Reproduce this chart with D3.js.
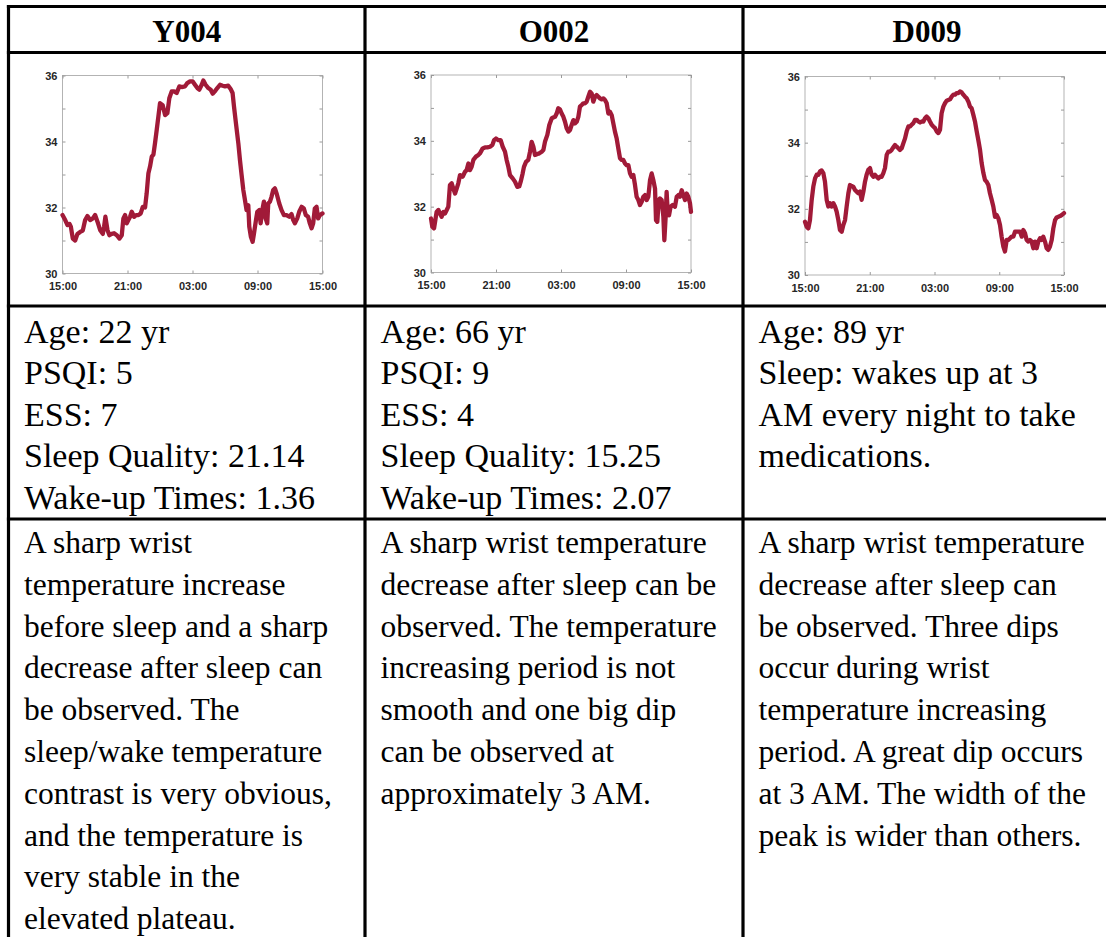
<!DOCTYPE html>
<html>
<head>
<meta charset="utf-8">
<script src="https://cdn.jsdelivr.net/npm/d3@7"></script>
<style>
  html, body { margin: 0; padding: 0; background: #fff; }
  svg { display: block; }
</style>
</head>
<body>
<svg id="fig" width="1106" height="937"></svg>
<script>
// Subjects shown in the table columns
const subjects = ["Y004", "O002", "D009"];

// Wrist temperature recordings: [hours since 15:00, temperature °C]
const y004Temp = [
  [0,31.77],[0.25,31.62],[0.46,31.47],[0.65,31.5],[0.77,31.42],[0.95,31.06],[1.17,31.0],[1.38,31.2],
  [1.63,31.26],[1.87,31.3],[2.09,31.62],[2.30,31.74],[2.55,31.62],[2.80,31.67],[3.01,31.77],[3.23,31.57],
  [3.47,31.32],[3.72,31.2],[3.84,31.42],[3.96,31.72],[4.15,31.32],[4.33,31.16],[4.55,31.2],[4.76,31.22],
  [5.01,31.16],[5.26,31.06],[5.47,31.16],[5.62,31.67],[5.78,31.77],[5.93,31.52],[6.08,31.62],[6.24,31.72],
  [6.39,31.87],[6.61,31.72],[6.79,31.77],[7.01,31.77],[7.22,31.82],[7.41,32.02],[7.62,32.0],[7.77,32.43],
  [7.93,33.04],[8.08,33.24],[8.24,33.54],[8.39,33.6],[8.54,33.95],[8.70,34.36],[8.85,34.76],[9.00,35.16],
  [9.25,35.1],[9.47,34.8],[9.68,34.86],[9.86,35.31],[10.08,35.52],[10.30,35.52],[10.54,35.47],[10.79,35.67],
  [11.00,35.65],[11.31,35.67],[11.52,35.77],[11.77,35.82],[12.02,35.82],[12.23,35.72],[12.45,35.62],[12.63,35.57],
  [12.85,35.72],[13.00,35.85],[13.21,35.72],[13.46,35.62],[13.68,35.57],[13.86,35.45],[14.07,35.52],[14.29,35.62],
  [14.54,35.72],[14.78,35.69],[15.00,35.67],[15.30,35.69],[15.52,35.59],[15.70,35.47],[15.83,35.06],[16.01,34.55],
  [16.23,33.95],[16.38,33.44],[16.53,32.99],[16.69,32.53],[16.84,32.23],[16.99,31.92],[17.15,32.07],[17.24,31.42],
  [17.39,31.11],[17.55,30.96],[17.67,31.2],[17.86,31.62],[17.98,31.87],[18.16,31.92],[18.29,31.52],[18.44,31.92],
  [18.59,32.18],[18.75,31.67],[18.90,31.52],[18.99,32.12],[19.15,32.18],[19.30,32.33],[19.45,32.53],[19.61,32.58],
  [19.76,32.43],[20.01,32.12],[20.22,31.92],[20.44,31.77],[20.68,31.77],[20.93,31.72],[21.14,31.8],[21.30,31.62],
  [21.45,31.52],[21.67,31.67],[21.85,31.87],[22.07,32.02],[22.28,31.97],[22.46,31.77],[22.67,31.72],[22.83,31.52],
  [22.99,31.37],[23.14,31.52],[23.29,31.97],[23.45,32.02],[23.60,31.67],[23.76,31.77],[24.00,31.82]
];

const o002Temp = [
  [0,31.64],[0.12,31.39],[0.28,31.34],[0.40,31.59],[0.52,31.84],[0.68,31.9],[0.83,31.79],[0.98,31.69],
  [1.14,31.84],[1.29,31.79],[1.45,31.9],[1.60,32.0],[1.75,32.66],[1.91,32.71],[2.06,32.55],[2.22,32.4],
  [2.37,32.55],[2.52,32.71],[2.68,32.96],[2.92,32.91],[3.14,33.06],[3.29,33.11],[3.45,33.31],[3.60,33.11],
  [3.75,33.21],[3.91,33.42],[4.15,33.52],[4.37,33.57],[4.52,33.62],[4.77,33.77],[4.98,33.8],[5.20,33.8],
  [5.45,33.82],[5.66,33.87],[5.82,34.02],[6.00,34.07],[6.22,34.02],[6.43,34.02],[6.62,33.82],[6.83,33.67],
  [6.98,33.42],[7.14,33.21],[7.29,32.96],[7.54,32.86],[7.75,32.76],[7.97,32.6],[8.15,32.62],[8.28,32.76],
  [8.46,33.01],[8.58,33.21],[8.77,33.36],[8.98,33.42],[9.14,33.67],[9.29,33.97],[9.45,33.82],[9.60,33.57],
  [9.82,33.6],[10.00,33.62],[10.22,33.67],[10.37,33.72],[10.52,33.97],[10.74,34.18],[10.92,34.48],[11.14,34.68],
  [11.29,34.71],[11.45,34.73],[11.60,34.83],[11.75,34.99],[11.91,34.95],[12.06,34.83],[12.22,34.73],[12.37,34.58],
  [12.52,34.38],[12.68,34.28],[12.83,34.33],[12.98,34.48],[13.14,34.63],[13.29,34.53],[13.45,34.58],[13.60,34.73],
  [13.75,35.04],[13.91,35.09],[14.06,35.14],[14.22,35.14],[14.37,35.19],[14.52,35.34],[14.68,35.49],[14.83,35.44],
  [14.98,35.19],[15.14,35.34],[15.29,35.39],[15.45,35.34],[15.60,35.29],[15.75,35.26],[15.91,35.29],[16.06,35.24],
  [16.22,35.14],[16.37,34.83],[16.52,34.88],[16.68,34.78],[16.83,34.53],[16.98,34.28],[17.14,34.07],[17.29,33.77],
  [17.45,33.47],[17.60,33.42],[17.75,33.42],[17.91,33.31],[18.06,33.26],[18.22,33.26],[18.37,33.01],[18.52,32.91],
  [18.68,32.96],[18.83,32.66],[18.98,32.3],[19.14,32.2],[19.29,32.05],[19.45,32.15],[19.60,32.3],[19.75,32.35],
  [19.91,32.2],[20.06,32.3],[20.22,32.81],[20.37,33.01],[20.52,32.81],[20.68,32.55],[20.77,31.59],[20.89,31.54],
  [21.02,32.2],[21.14,32.25],[21.29,32.2],[21.45,31.69],[21.54,30.98],[21.66,31.69],[21.75,32.45],[21.85,31.84],
  [21.97,31.74],[22.12,32.0],[22.31,32.05],[22.52,32.0],[22.68,32.3],[22.83,32.35],[22.98,32.3],[23.14,32.5],
  [23.29,32.35],[23.45,32.2],[23.60,32.4],[23.75,32.3],[23.91,32.1],[24.00,31.84]
];

const d009Temp = [
  [0,31.61],[0.15,31.46],[0.31,31.41],[0.46,31.66],[0.62,32.27],[0.77,32.67],[0.93,32.92],[1.08,33.03],
  [1.24,33.03],[1.39,33.13],[1.54,33.16],[1.70,33.08],[1.85,32.82],[2.01,32.27],[2.16,32.07],[2.32,32.17],
  [2.47,32.07],[2.63,32.17],[2.78,32.07],[2.93,31.92],[3.09,31.66],[3.24,31.36],[3.40,31.31],[3.55,31.51],
  [3.71,31.66],[3.86,32.07],[4.02,32.47],[4.17,32.72],[4.32,32.69],[4.48,32.67],[4.63,32.57],[4.79,32.52],
  [4.94,32.47],[5.10,32.52],[5.25,32.27],[5.41,32.52],[5.56,32.82],[5.71,33.03],[5.87,33.18],[6.02,33.23],
  [6.18,33.03],[6.33,32.97],[6.49,33.03],[6.64,32.97],[6.80,32.92],[6.95,32.97],[7.10,32.97],[7.26,33.08],
  [7.41,33.23],[7.57,33.63],[7.72,33.73],[7.88,33.73],[8.03,33.78],[8.19,33.86],[8.34,33.93],[8.49,33.88],
  [8.65,33.83],[8.80,33.78],[8.96,33.83],[9.11,33.98],[9.27,34.13],[9.42,34.34],[9.58,34.49],[9.73,34.49],
  [9.88,34.54],[10.04,34.59],[10.19,34.69],[10.35,34.69],[10.50,34.64],[10.66,34.61],[10.81,34.64],[10.97,34.64],
  [11.12,34.74],[11.27,34.79],[11.43,34.74],[11.58,34.64],[11.74,34.54],[11.89,34.49],[12.05,34.44],[12.20,34.34],
  [12.36,34.29],[12.51,34.39],[12.66,34.89],[12.82,35.09],[12.97,35.19],[13.13,35.27],[13.28,35.29],[13.44,35.31],
  [13.59,35.39],[13.75,35.45],[13.90,35.45],[14.05,35.5],[14.21,35.5],[14.36,35.55],[14.52,35.52],[14.67,35.45],
  [14.83,35.39],[14.98,35.34],[15.14,35.24],[15.29,35.09],[15.44,35.04],[15.60,34.84],[15.75,34.64],[15.91,34.34],
  [16.06,34.08],[16.22,33.78],[16.37,33.38],[16.53,33.08],[16.68,32.87],[16.83,32.82],[16.99,32.72],[17.14,32.47],
  [17.30,32.27],[17.45,32.07],[17.61,31.76],[17.76,31.81],[17.92,31.71],[18.07,31.51],[18.22,31.16],[18.38,30.86],
  [18.53,30.71],[18.69,31.06],[18.84,31.06],[19.00,31.11],[19.15,31.16],[19.31,31.16],[19.46,31.31],[19.61,31.31],
  [19.77,31.31],[19.92,31.31],[20.08,31.16],[20.23,31.36],[20.39,31.26],[20.54,31.06],[20.70,31.01],[20.85,31.06],
  [21.00,31.01],[21.16,30.81],[21.31,31.01],[21.47,30.81],[21.62,31.01],[21.78,31.11],[21.93,31.06],[22.08,31.16],
  [22.24,31.01],[22.39,30.81],[22.55,30.76],[22.70,30.86],[22.86,31.06],[23.01,31.41],[23.17,31.66],[23.32,31.74],
  [23.48,31.76],[23.63,31.78],[23.78,31.81],[24.00,31.87]
];

// Axis ticks
const xTickHours = [0, 6, 12, 18, 24];
const xTickLabels = ["15:00", "21:00", "03:00", "09:00", "15:00"];
const yTicks = [30, 31, 32, 33, 34, 35, 36];
const yLabelled = [30, 32, 34, 36];

// Table text
const infoLines = [
  ["Age: 22 yr", "PSQI: 5", "ESS: 7", "Sleep Quality: 21.14", "Wake-up Times: 1.36"],
  ["Age: 66 yr", "PSQI: 9", "ESS: 4", "Sleep Quality: 15.25", "Wake-up Times: 2.07"],
  ["Age: 89 yr", "Sleep: wakes up at 3", "AM every night to take", "medications."]
];
const notes = [
  ["A sharp wrist", "temperature increase", "before sleep and a sharp", "decrease after sleep can",
   "be observed. The", "sleep/wake temperature", "contrast is very obvious,", "and the temperature is",
   "very stable in the", "elevated plateau."],
  ["A sharp wrist temperature", "decrease after sleep can be", "observed. The temperature",
   "increasing period is not", "smooth and one big dip", "can be observed at", "approximately 3 AM."],
  ["A sharp wrist temperature", "decrease after sleep can", "be observed. Three dips", "occur during wrist",
   "temperature increasing", "period. A great dip occurs", "at 3 AM. The width of the", "peak is wider than others."]
];

const series = [y004Temp, o002Temp, d009Temp];

// ---------- layout ----------
const W = 1106, H = 937;
const colX = [8.5, 365, 743, 1111];            // column borders
const rowY = [6.5, 52.5, 306, 519];              // horizontal rules
const plots = [                                   // plot boxes inside chart row
  {l: 62.5, r: 322.5, t: 75.5, b: 273.5},
  {l: 431, r: 691, t: 75, b: 272.5},
  {l: 805, r: 1064, t: 76.5, b: 275}
];
const lineColor = "#a11a38";
const serif = "'Liberation Serif', 'Times New Roman', serif";
const sans = "'Liberation Sans', Arial, sans-serif";

const svg = d3.select("#fig");
svg.append("rect").attr("width", W).attr("height", H).attr("fill", "#fff");

// ---------- charts ----------
series.forEach((data, i) => {
  const p = plots[i];
  const x = d3.scaleLinear().domain([0, 24]).range([p.l, p.r]);
  const y = d3.scaleLinear().domain([30, 36]).range([p.b, p.t]);
  const g = svg.append("g");

  g.append("rect")
    .attr("x", p.l).attr("y", p.t)
    .attr("width", p.r - p.l).attr("height", p.b - p.t)
    .attr("fill", "#fff").attr("stroke", "#b3b3b3").attr("stroke-width", 1);

  const styleAxis = sel => {
    sel.select(".domain").remove();
    sel.selectAll(".tick line").attr("stroke", "#9a9a9a");
    sel.selectAll("text")
      .attr("fill", "#262626")
      .style("font-family", sans)
      .style("font-weight", "bold")
      .style("font-size", "11px");
  };

  g.append("g").attr("transform", `translate(${p.l},0)`)
    .call(d3.axisLeft(y).tickValues(yTicks).tickSize(-3).tickPadding(5)
      .tickFormat(d => yLabelled.includes(d) ? d : ""))
    .call(styleAxis);
  g.append("g").attr("transform", `translate(${p.r},0)`)
    .call(d3.axisRight(y).tickValues(yTicks).tickSize(-3).tickFormat(""))
    .call(styleAxis);
  g.append("g").attr("transform", `translate(0,${p.b})`)
    .call(d3.axisBottom(x).tickValues(xTickHours).tickSize(-3).tickPadding(9)
      .tickFormat((d, k) => xTickLabels[k]))
    .call(styleAxis);
  g.append("g").attr("transform", `translate(0,${p.t})`)
    .call(d3.axisTop(x).tickValues(xTickHours).tickSize(-3).tickFormat(""))
    .call(styleAxis);

  const line = d3.line().x(d => x(d[0])).y(d => y(d[1]));
  g.append("path")
    .datum(data)
    .attr("d", line)
    .attr("fill", "none")
    .attr("stroke", lineColor)
    .attr("stroke-width", 4.3)
    .attr("stroke-linejoin", "round")
    .attr("stroke-linecap", "round");
});

// ---------- table text ----------
subjects.forEach((name, i) => {
  svg.append("text")
    .attr("x", (colX[i] + colX[i + 1]) / 2)
    .attr("y", 42)
    .attr("text-anchor", "middle")
    .style("font-family", serif)
    .style("font-weight", "bold")
    .style("font-size", "31px")
    .attr("fill", "#000")
    .text(name);
});

infoLines.forEach((lines, i) => {
  lines.forEach((s, k) => {
    svg.append("text")
      .attr("x", colX[i] + 15.5)
      .attr("y", 342.5 + k * 41.6)
      .style("font-family", serif)
      .style("font-size", "34px")
      .attr("fill", "#000")
      .text(s);
  });
});

notes.forEach((lines, i) => {
  lines.forEach((s, k) => {
    svg.append("text")
      .attr("x", colX[i] + 15.5)
      .attr("y", 553 + k * 41.8)
      .style("font-family", serif)
      .style("font-size", "31.5px")
      .attr("fill", "#000")
      .text(s);
  });
});

// ---------- table rules ----------
const rules = svg.append("g").attr("stroke", "#000").attr("stroke-width", 3.2);
rowY.forEach(yy => {
  rules.append("line").attr("x1", colX[0] - 1.6).attr("x2", W).attr("y1", yy).attr("y2", yy);
});
colX.slice(0, 3).forEach(xx => {
  rules.append("line").attr("x1", xx).attr("x2", xx).attr("y1", rowY[0] - 1.6).attr("y2", H);
});
</script>
</body>
</html>
